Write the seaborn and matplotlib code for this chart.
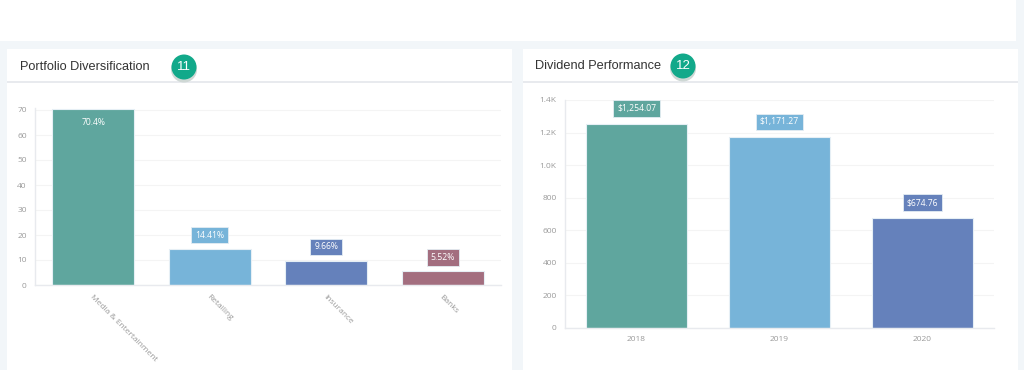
import matplotlib.pyplot as plt
import pandas as pd
import seaborn as sns
from matplotlib.patches import Rectangle, Ellipse
from matplotlib.ticker import FuncFormatter

# chart values
sectors = ['Media & Entertainment', 'Retailing', 'Insurance', 'Banks']
weights = [70.4, 14.41, 9.66, 5.52]
years = ['2018', '2019', '2020']
dividends = [1254.07, 1171.27, 674.76]

sector_colors = ['#5fa69e', '#77b4d9', '#6581bb', '#a36e7f']
year_colors = ['#5fa69e', '#77b4d9', '#6581bb']

W, H = 1024, 370
BG = '#f2f6f9'
TICK = '#9a9a9a'
LINE = '#e8eaee'

sns.set_theme(style='white')
plt.rcParams['font.family'] = ['Open Sans', 'DejaVu Sans']

fig = plt.figure(figsize=(W / 100, H / 100), dpi=100)
fig.patch.set_facecolor(BG)


def box(x, y, w, h):
    # pixel box (top-left origin) -> figure fractions
    return [x / W, 1 - (y + h) / H, w / W, h / H]


def card(x, y, w, h, color='white'):
    l, b, ww, hh = box(x, y, w, h)
    fig.add_artist(Rectangle((l, b), ww, hh, transform=fig.transFigure,
                             facecolor=color, edgecolor='none', zorder=0))


def dot(x, y, r, color, z):
    fig.add_artist(Ellipse((x / W, 1 - y / H), 2 * r / W, 2 * r / H,
                           transform=fig.transFigure, facecolor=color,
                           edgecolor='none', zorder=z))


# cards
card(0, 0, 1016, 41)
card(7, 49, 505, 330)
card(523, 49, 495, 330)
card(7, 81, 505, 1.5, LINE)
card(523, 81, 495, 1.5, LINE)


def header(x, y, text, bx, num):
    fig.text(x / W, 1 - y / H, text, fontsize=9.2, color='#333333',
             family=['Liberation Sans', 'DejaVu Sans'], va='center', ha='left')
    dot(bx, y + 2.5, 13, '#cfd8d5', 2)
    dot(bx, y, 12.5, '#12a98a', 3)
    fig.text(bx / W, 1 - y / H, num, fontsize=9.5, color='white', ha='center', va='center',
             family=['Liberation Sans', 'DejaVu Sans'], zorder=4)


header(20, 67, 'Portfolio Diversification', 184, '11')
header(535, 66, 'Dividend Performance', 683, '12')


def style_axes(ax):
    ax.set_facecolor('white')
    for s in ['top', 'right']:
        ax.spines[s].set_visible(False)
    for s in ['left', 'bottom']:
        ax.spines[s].set_color(LINE)
        ax.spines[s].set_linewidth(1)
    ax.grid(axis='y', color='#f4f4f4', linewidth=0.8)
    ax.set_axisbelow(True)
    ax.tick_params(axis='y', which='major', length=3, width=0.6, color=LINE,
                   labelsize=6, labelcolor=TICK, pad=3)
    ax.tick_params(axis='x', which='major', length=0, labelsize=6, labelcolor=TICK, pad=6)
    ax.tick_params(axis='x', which='minor', length=4, width=0.6, color=LINE)
    ax.set_xlabel('')
    ax.set_ylabel('')


def tag(ax, x, y, text, color, dy):
    ax.annotate(text, (x, y), xytext=(0, dy), textcoords='offset points',
                ha='center', va='center', fontsize=6.2, color='white',
                bbox=dict(boxstyle='square,pad=0.45', facecolor=color,
                          edgecolor='#e4edf3', linewidth=0.6))


# left chart
ax1 = fig.add_axes(box(35, 107.5, 466, 177.5))
df1 = pd.DataFrame({'sector': sectors, 'weight': weights})
sns.barplot(data=df1, x='sector', y='weight', hue='sector', palette=sector_colors,
            legend=False, width=0.7, saturation=1, edgecolor='#e6eff5', linewidth=0.8, ax=ax1)
ax1.set_xlim(-0.5, 3.5)
ax1.set_ylim(0, 71)
ax1.set_yticks(range(0, 80, 10))
style_axes(ax1)
ax1.set_xticks([0.5, 1.5, 2.5], minor=True)
ax1.set_xticks(range(len(sectors)))
ax1.set_xticklabels(sectors, rotation=-45, ha='left', va='top', rotation_mode='anchor')
for i, (v, c) in enumerate(zip(weights, sector_colors)):
    label = f'{v}%'
    if i == 0:
        ax1.annotate(label, (i, v), xytext=(0, -10), textcoords='offset points',
                     ha='center', va='center', fontsize=6.2, color='white')
    else:
        tag(ax1, i, v, label, c, 10)

# right chart
ax2 = fig.add_axes(box(565, 100, 429, 228))
df2 = pd.DataFrame({'year': years, 'dividend': dividends})
sns.barplot(data=df2, x='year', y='dividend', hue='year', palette=year_colors,
            legend=False, width=0.7, saturation=1, edgecolor='#e6eff5', linewidth=0.8, ax=ax2)
ax2.set_xlim(-0.5, 2.5)
ax2.set_ylim(0, 1400)
ax2.set_yticks(range(0, 1600, 200))
ax2.yaxis.set_major_formatter(FuncFormatter(
    lambda v, p: f'{v / 1000:.1f}K' if v >= 1000 else f'{int(v)}'))
style_axes(ax2)
ax2.set_xticks([0.5, 1.5], minor=True)
for i, (v, c) in enumerate(zip(dividends, year_colors)):
    tag(ax2, i, v, f'${v:,.2f}', c, 11)

fig.savefig('out.png', dpi=100, facecolor=BG)
